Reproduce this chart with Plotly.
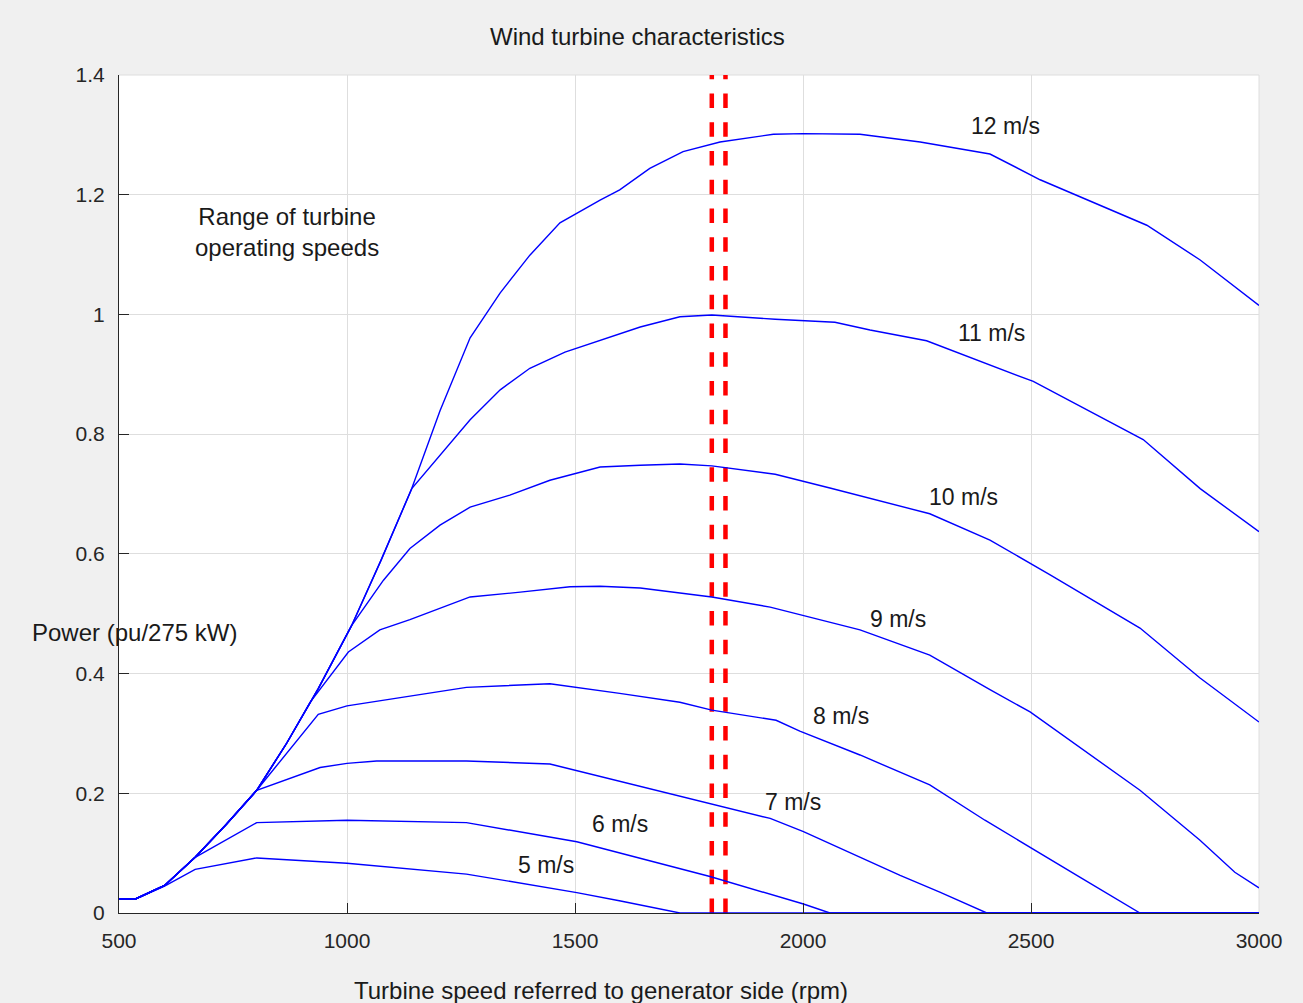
import plotly.graph_objects as go

# ---- data ----
rpm_5 = [500, 535, 600, 667, 802, 1000, 1262, 1504, 1600, 1730, 3000]
pw_5 = [0.023, 0.023, 0.045, 0.073, 0.092, 0.083, 0.065, 0.034, 0.020, 0.0, 0.0]

rpm_6 = [500, 535, 600, 667, 802, 1000, 1262, 1504, 1796, 2001, 2059, 3000]
pw_6 = [0.023, 0.023, 0.046, 0.093, 0.151, 0.155, 0.151, 0.119, 0.061, 0.015, 0.0, 0.0]

rpm_7 = [500, 535, 600, 667, 735, 802, 941, 1000, 1065, 1262, 1445, 1796, 1928, 2001, 2213, 2300, 2403, 3000]
pw_7 = [0.023, 0.023, 0.046, 0.093, 0.148, 0.205, 0.243, 0.250, 0.254, 0.254, 0.249, 0.183, 0.158, 0.136, 0.063, 0.035, 0.0, 0.0]

rpm_8 = [500, 535, 600, 667, 735, 802, 937, 1000, 1262, 1445, 1598, 1730, 1800, 1941, 1993, 2125, 2278, 2399, 2607, 2739, 3000]
pw_8 = [0.023, 0.023, 0.046, 0.093, 0.148, 0.205, 0.332, 0.346, 0.377, 0.383, 0.367, 0.352, 0.339, 0.322, 0.304, 0.264, 0.214, 0.155, 0.060, 0.0, 0.0]

rpm_9 = [500, 535, 600, 667, 735, 802, 868, 919, 1003, 1072, 1138, 1270, 1380, 1489, 1555, 1643, 1800, 1928, 2125, 2278, 2410, 2498, 2739, 2870, 2947, 3000]
pw_9 = [0.023, 0.023, 0.046, 0.093, 0.148, 0.205, 0.284, 0.352, 0.436, 0.473, 0.490, 0.528, 0.536, 0.545, 0.546, 0.543, 0.528, 0.511, 0.473, 0.431, 0.373, 0.336, 0.205, 0.122, 0.068, 0.042]

rpm_10 = [500, 535, 600, 667, 735, 802, 868, 937, 1010, 1080, 1138, 1204, 1270, 1357, 1445, 1555, 1643, 1730, 1800, 1939, 2059, 2278, 2410, 2542, 2739, 2870, 3000]
pw_10 = [0.023, 0.023, 0.046, 0.093, 0.148, 0.205, 0.284, 0.375, 0.480, 0.556, 0.609, 0.648, 0.678, 0.698, 0.723, 0.745, 0.748, 0.750, 0.747, 0.733, 0.710, 0.667, 0.623, 0.565, 0.476, 0.393, 0.319]

rpm_11 = [500, 535, 600, 667, 735, 802, 868, 937, 1010, 1075, 1142, 1204, 1270, 1336, 1401, 1478, 1555, 1643, 1730, 1800, 1939, 2070, 2147, 2271, 2505, 2746, 2871, 3000]
pw_11 = [0.023, 0.023, 0.046, 0.093, 0.148, 0.205, 0.284, 0.375, 0.480, 0.590, 0.709, 0.765, 0.824, 0.874, 0.910, 0.937, 0.957, 0.979, 0.996, 0.999, 0.992, 0.987, 0.974, 0.956, 0.888, 0.791, 0.709, 0.637]

rpm_12 = [500, 535, 600, 667, 735, 802, 868, 937, 1010, 1075, 1142, 1185, 1204, 1270, 1336, 1401, 1467, 1555, 1598, 1664, 1737, 1818, 1935, 2001, 2125, 2257, 2410, 2520, 2754, 2871, 3000]
pw_12 = [0.023, 0.023, 0.046, 0.093, 0.148, 0.205, 0.284, 0.375, 0.480, 0.590, 0.709, 0.801, 0.839, 0.961, 1.036, 1.099, 1.153, 1.191, 1.208, 1.244, 1.272, 1.288, 1.301, 1.302, 1.301, 1.288, 1.268, 1.225, 1.149, 1.091, 1.015]

curves = [(rpm_5, pw_5), (rpm_6, pw_6), (rpm_7, pw_7), (rpm_8, pw_8),
          (rpm_9, pw_9), (rpm_10, pw_10), (rpm_11, pw_11), (rpm_12, pw_12)]

label_text = ["5 m/s", "6 m/s", "7 m/s", "8 m/s", "9 m/s", "10 m/s", "11 m/s", "12 m/s"]
label_rpm = [1436, 1599, 1978, 2083, 2208, 2351, 2414, 2443]
label_pw = [0.080, 0.149, 0.185, 0.329, 0.491, 0.695, 0.969, 1.315]

op_speed_rpm = [1800, 1830]
y_range = [0, 1.4]
x_range = [500, 3000]
x_ticks = [500, 1000, 1500, 2000, 2500, 3000]
y_ticks = [0, 0.2, 0.4, 0.6, 0.8, 1, 1.2, 1.4]
y_tick_text = ["0", "0.2", "0.4", "0.6", "0.8", "1", "1.2", "1.4"]

FONT = "Liberation Sans, Arial, Helvetica, sans-serif"
TXT = "#1a1a1a"
TS = 24

fig = go.Figure()

for xs in op_speed_rpm:
    fig.add_trace(go.Scatter(x=[xs, xs], y=y_range, mode="lines",
                             line=dict(color="#ff0000", width=4.5, dash="14.4px,14.35px"),
                             hoverinfo="skip", showlegend=False))

for xs, ys in curves:
    fig.add_trace(go.Scatter(x=xs, y=ys, mode="lines",
                             line=dict(color="#0000ff", width=1.4),
                             showlegend=False))

for t, xv, yv in zip(label_text, label_rpm, label_pw):
    fig.add_annotation(x=xv, y=yv, text=t, showarrow=False,
                       xanchor="center", yanchor="middle",
                       font=dict(family=FONT, size=23, color=TXT))

fig.add_annotation(x=868, y=1.138, text="Range of turbine<br>operating speeds",
                   showarrow=False, xanchor="center", yanchor="middle",
                   font=dict(family=FONT, size=TS, color=TXT))

# title, axis labels
fig.add_annotation(xref="paper", yref="paper", x=(637 - 119) / 1140, y=(913 - 36) / 838,
                   xanchor="center", yanchor="middle",
                   text="Wind turbine characteristics", showarrow=False,
                   font=dict(family=FONT, size=TS, color=TXT))
fig.add_annotation(xref="paper", yref="paper", x=(601 - 119) / 1140, y=(913 - 990) / 838,
                   xanchor="center", yanchor="middle",
                   text="Turbine speed referred to generator side (rpm)", showarrow=False,
                   font=dict(family=FONT, size=TS, color=TXT))
fig.add_annotation(xref="paper", yref="paper", x=(30 - 119) / 1140, y=(913 - 632) / 838,
                   xanchor="left", yanchor="middle", text="Power (pu/275 kW)", showarrow=False,
                   font=dict(family=FONT, size=TS, color=TXT))

# top and right border in grid colour
fig.add_shape(type="line", xref="paper", yref="paper", x0=0, x1=1, y0=1, y1=1,
              line=dict(color="#dedede", width=1), layer="below")
fig.add_shape(type="line", xref="paper", yref="paper", x0=1, x1=1, y0=0, y1=1,
              line=dict(color="#dedede", width=1), layer="below")

fig.update_layout(
    width=1303, height=1003,
    margin=dict(l=119, r=44, t=75, b=90),
    paper_bgcolor="#f0f0f0", plot_bgcolor="#ffffff",
    font=dict(family=FONT, size=21, color="#262626"),
    showlegend=False,
)
fig.update_xaxes(range=x_range, tickvals=x_ticks, ticks="inside", ticklen=10,
                 tickcolor="#262626", showline=True, linecolor="#262626", linewidth=1,
                 showgrid=True, gridcolor="#dedede", gridwidth=1, zeroline=False,
                 ticklabelstandoff=9, tickfont=dict(size=21, color="#262626"))
fig.update_yaxes(range=y_range, tickvals=y_ticks, ticktext=y_tick_text,
                 ticks="inside", ticklen=10,
                 tickcolor="#262626", showline=True, linecolor="#262626", linewidth=1,
                 showgrid=True, gridcolor="#dedede", gridwidth=1, zeroline=False,
                 ticklabelstandoff=9, tickfont=dict(size=21, color="#262626"))

fig.write_html("out.html", config={"displayModeBar": False},
               post_script="document.body.style.margin='0';document.body.style.background='#f0f0f0';")
